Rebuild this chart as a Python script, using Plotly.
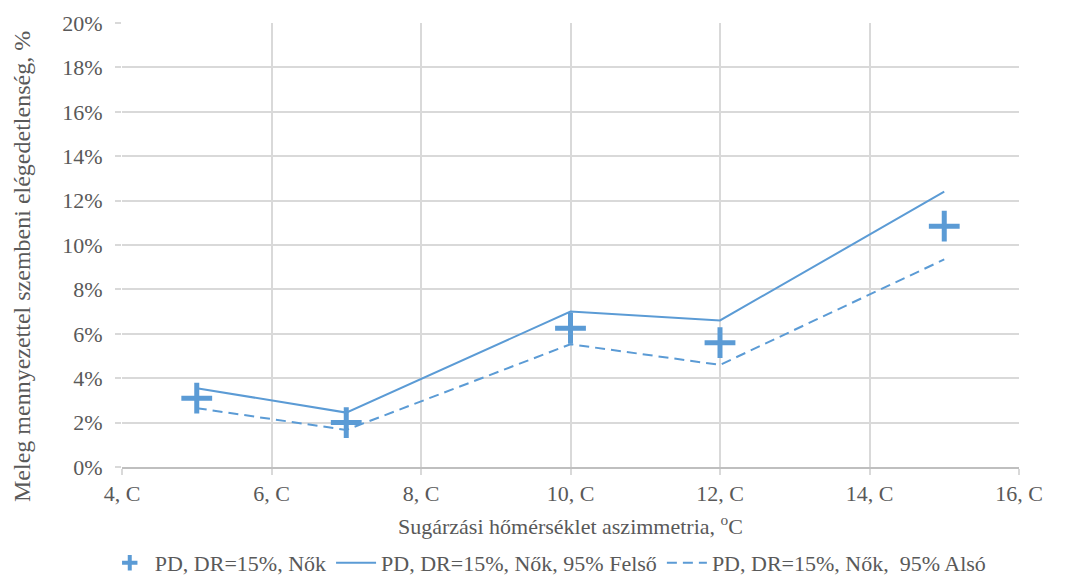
import plotly.graph_objects as go

# Radiant temperature asymmetry (°C) and percentage dissatisfied (fraction)
asym = [5, 7, 10, 12, 15]
pd_women = [0.031, 0.020, 0.0625, 0.056, 0.1085]
pd_upper = [0.0355, 0.0245, 0.070, 0.066, 0.124]
pd_lower = [0.0265, 0.0167, 0.0553, 0.046, 0.0935]

x_ticks = [4, 6, 8, 10, 12, 14, 16]
x_tick_labels = ["4, C", "6, C", "8, C", "10, C", "12, C", "14, C", "16, C"]

series_names = ["PD, DR=15%, Nők", "PD, DR=15%, Nők, 95% Felső", "PD, DR=15%, Nők,  95% Alsó"]
x_title = "Sugárzási hőmérséklet aszimmetria, <sup>o</sup>C"
y_title = "Meleg mennyezettel szembeni elégedetlenség, %"

blue = "#5b9bd5"
grid = "#d9d9d9"
text_col = "#595959"
font_family = "Liberation Serif"
fsize = 22

fig = go.Figure()
# measured points (plotted markers); legend entry drawn by a smaller key below
fig.add_trace(go.Scatter(
    x=asym, y=pd_women, mode="markers", name=series_names[0],
    showlegend=False, legendgroup="pd",
    marker=dict(symbol="cross-thin", size=22, color=blue,
                line=dict(color=blue, width=5)),
))
fig.add_trace(go.Scatter(
    x=[None], y=[None], mode="markers", name=series_names[0], legendgroup="pd",
    marker=dict(symbol="cross-thin", size=11, color=blue,
                line=dict(color=blue, width=4)),
))
fig.add_trace(go.Scatter(
    x=asym, y=pd_upper, mode="lines", name=series_names[1],
    line=dict(color=blue, width=2),
))
fig.add_trace(go.Scatter(
    x=asym, y=pd_lower, mode="lines", name=series_names[2],
    line=dict(color=blue, width=2, dash="10px,6px"),
))

fig.update_layout(
    width=1075, height=584,
    margin=dict(l=122, r=56, t=23, b=117, autoexpand=False),
    paper_bgcolor="white", plot_bgcolor="white",
    font=dict(family=font_family, size=fsize, color=text_col),
    showlegend=True,
    legend=dict(orientation="h", xref="container", x=0.51, xanchor="center",
                yref="container", y=-0.005, yanchor="bottom",
                font=dict(family=font_family, size=fsize, color=text_col),
                itemwidth=40, traceorder="normal"),
    annotations=[
        dict(text=x_title, xref="paper", yref="paper", x=0.5, y=0,
             yshift=-42, xanchor="center", yanchor="top", showarrow=False,
             font=dict(family=font_family, size=fsize, color=text_col)),
        dict(text=y_title, xref="paper", yref="paper", x=0, y=0.5,
             xshift=-100, yshift=-22, textangle=-90, xanchor="center",
             yanchor="middle", showarrow=False,
             font=dict(family=font_family, size=24, color=text_col)),
    ],
)
fig.update_xaxes(
    range=[4, 16], tickvals=x_ticks, ticktext=x_tick_labels,
    showgrid=True, gridcolor=grid, gridwidth=2,
    showline=True, linecolor="#bfbfbf", linewidth=2,
    ticks="outside", ticklen=6, tickcolor=grid, tickwidth=2,
    zeroline=False, automargin=False,
    tickfont=dict(family=font_family, size=fsize, color=text_col),
)
fig.update_yaxes(
    range=[0, 0.20], dtick=0.02, tickformat=".0%",
    showgrid=True, gridcolor=grid, gridwidth=2,
    showline=False, zeroline=False, automargin=False,
    ticks="outside", ticklen=6, tickcolor=grid, tickwidth=2,
    ticklabelstandoff=8,
    tickfont=dict(family=font_family, size=fsize, color=text_col),
)

fig.write_html("out.html")
